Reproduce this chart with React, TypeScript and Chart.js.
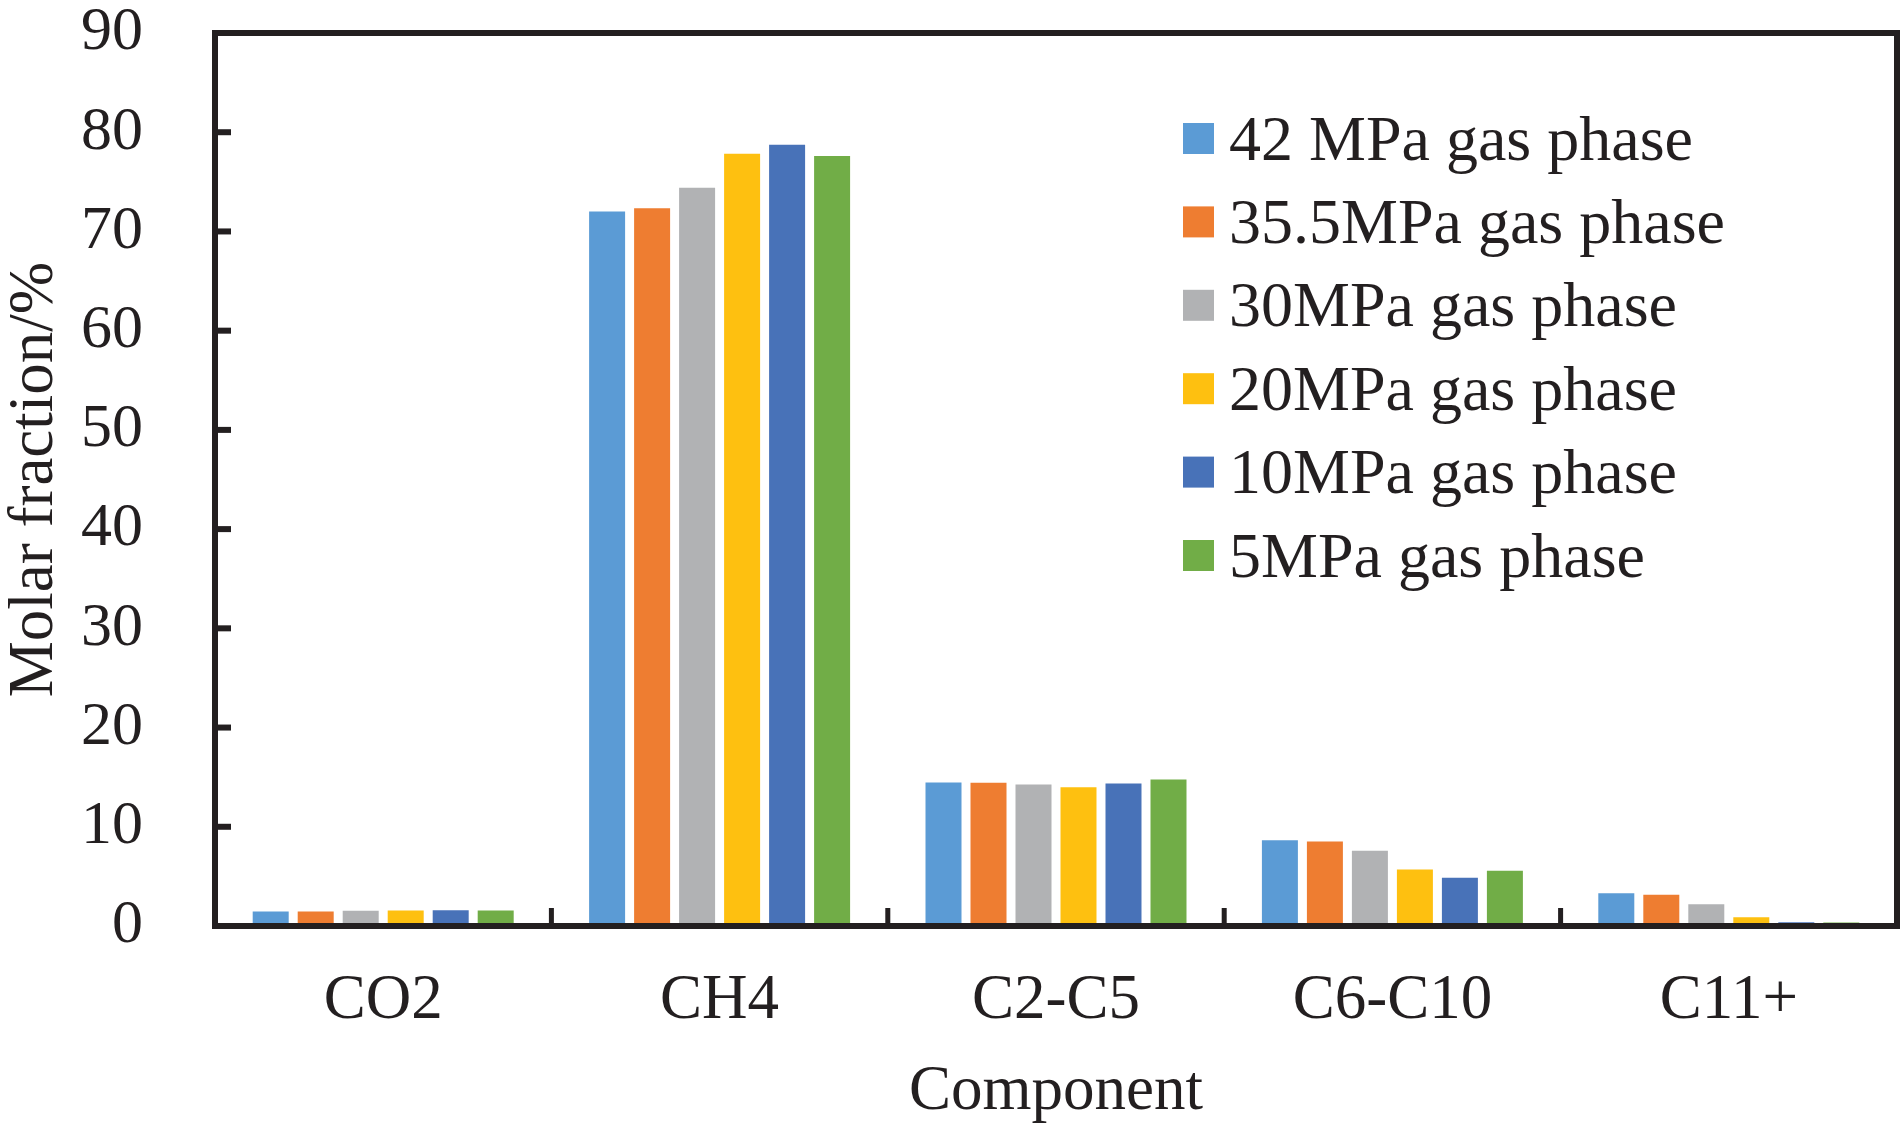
import React, { useEffect, useRef } from "react";
import { Chart, registerables } from "chart.js";

Chart.register(...registerables);

const categories = ["CO2", "CH4", "C2-C5", "C6-C10", "C11+"];
const seriesLabels = [
  "42 MPa gas phase",
  "35.5MPa gas phase",
  "30MPa gas phase",
  "20MPa gas phase",
  "10MPa gas phase",
  "5MPa gas phase",
];
const p42 = [1.46, 72.0, 14.47, 8.65, 3.31];
const p355 = [1.46, 72.33, 14.43, 8.52, 3.14];
const p30 = [1.53, 74.4, 14.26, 7.58, 2.2];
const p20 = [1.56, 77.84, 13.99, 5.7, 0.89];
const p10 = [1.59, 78.75, 14.36, 4.86, 0.38];
const p5 = [1.56, 77.6, 14.77, 5.56, 0.35];
const seriesValues = [p42, p355, p30, p20, p10, p5];
const colors = ["#5B9BD5", "#EE7D31", "#B1B2B4", "#FEC010", "#4872B8", "#71AD47"];

const yMin = 0;
const yMax = 90;
const yStep = 10;

const INK = "#231F20";
const FONT = "'Liberation Serif', 'Times New Roman', serif";

const framePlugin = {
  id: "framePlugin",
  afterDatasetsDraw(chart: any) {
    const { ctx, chartArea, scales } = chart;
    const { left, right, top, bottom } = chartArea;
    ctx.save();
    ctx.strokeStyle = INK;
    ctx.fillStyle = INK;
    // y inside ticks
    const ys = scales.y;
    ys.ticks.forEach((t: any) => {
      const py = ys.getPixelForValue(t.value);
      ctx.fillRect(left, py - 3, 16, 6);
    });
    // x inside ticks at category boundaries
    const xs = scales.x;
    for (let i = 1; i < categories.length; i++) {
      const px = (xs.getPixelForValue(i - 1) + xs.getPixelForValue(i)) / 2;
      ctx.fillRect(px - 2.5, bottom - 18, 5, 18);
    }
    ctx.lineWidth = 6;
    ctx.strokeRect(left, top, right - left, bottom - top);
    ctx.restore();
  },
  afterDraw(chart: any) {
    const { ctx } = chart;
    ctx.save();
    const boxX = 1183;
    const textX = 1229;
    const firstCenter = 138.5;
    const rowGap = 83.4;
    ctx.font = `64px ${FONT}`;
    ctx.textBaseline = "alphabetic";
    ctx.textAlign = "left";
    chart.data.datasets.forEach((ds: any, i: number) => {
      const cy = firstCenter + i * rowGap;
      ctx.fillStyle = ds.backgroundColor;
      ctx.fillRect(boxX, cy - 15.5, 31, 31);
      ctx.fillStyle = INK;
      ctx.fillText(ds.label, textX, cy + 21);
    });
    ctx.restore();
  },
};

export default function App() {
  const ref = useRef<HTMLCanvasElement | null>(null);

  useEffect(() => {
    document.body.style.margin = "0";
    if (!ref.current) return;
    const chart = new Chart(ref.current, {
      type: "bar",
      data: {
        labels: categories,
        datasets: seriesValues.map((vals, i) => ({
          label: seriesLabels[i],
          data: vals,
          backgroundColor: colors[i],
          borderWidth: 0,
          categoryPercentage: 0.8026,
          barPercentage: 0.8,
        })),
      },
      options: {
        responsive: false,
        animation: false,
        devicePixelRatio: 1,
        layout: { padding: { top: 33, right: 6, left: 0, bottom: 0 } },
        plugins: {
          legend: { display: false },
          tooltip: { enabled: false },
          title: { display: false },
        },
        scales: {
          x: {
            grid: { display: false, drawTicks: false },
            border: { display: false },
            ticks: {
              color: INK,
              font: { family: FONT, size: 63, lineHeight: 1.2 },
              padding: 38,
              maxRotation: 0,
              autoSkip: false,
            },
            title: {
              display: true,
              text: "Component",
              color: INK,
              font: { family: FONT, size: 63, lineHeight: 1 },
              padding: { top: 0, bottom: 4 },
            },
            afterFit: (s: any) => {
              s.height = 202;
              s.paddingLeft = 0;
              s.paddingRight = 0;
            },
          },
          y: {
            min: yMin,
            max: yMax,
            grid: { display: false, drawTicks: false },
            border: { display: false },
            ticks: {
              stepSize: yStep,
              color: INK,
              font: { family: FONT, size: 62 },
              padding: 72,
            },
            title: {
              display: true,
              text: "Molar fraction/%",
              color: INK,
              font: { family: FONT, size: 63, lineHeight: 1 },
              padding: { top: 4, bottom: 0 },
            },
            afterFit: (s: any) => {
              s.width = 215;
              s.paddingTop = 0;
              s.paddingBottom = 0;
            },
          },
        },
      },
      plugins: [framePlugin],
    });
    return () => chart.destroy();
  }, []);

  return <canvas ref={ref} width={1903} height={1128} style={{ display: "block" }} />;
}
